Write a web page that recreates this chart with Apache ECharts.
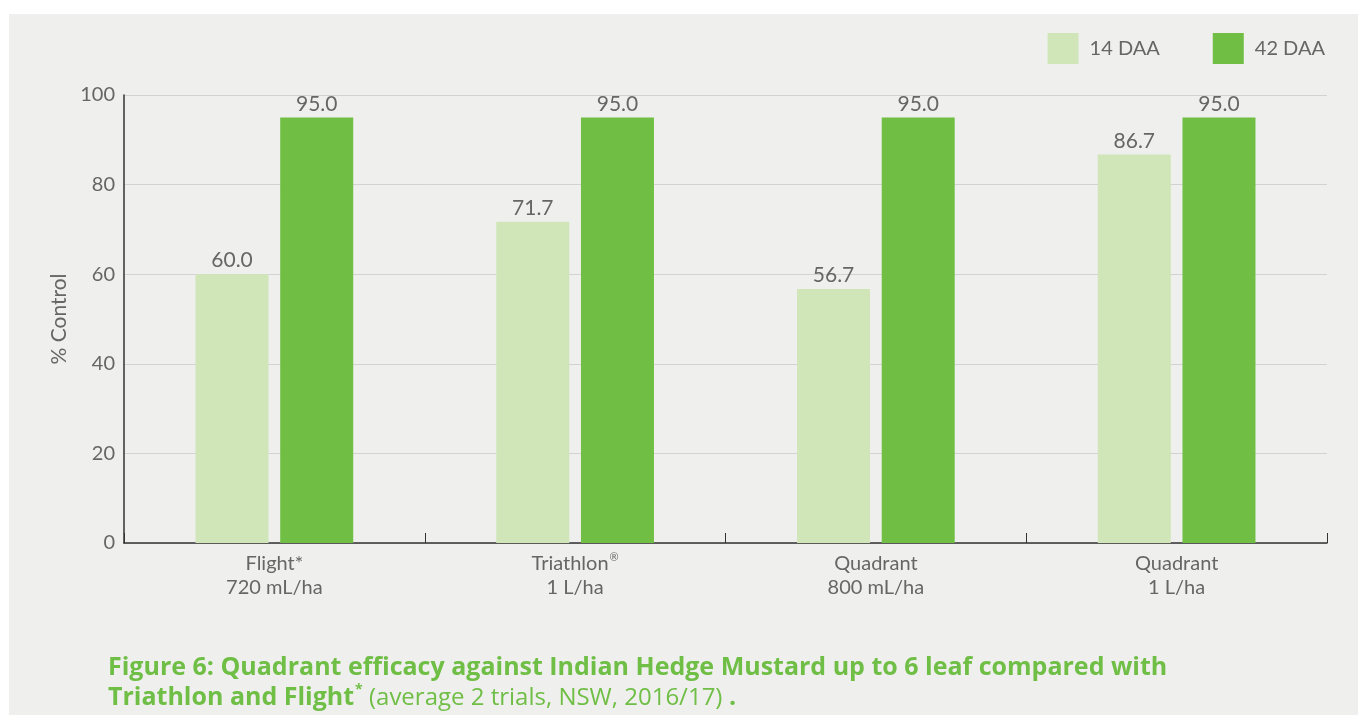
<!DOCTYPE html>
<html>
<head>
<meta charset="utf-8">
<script src="https://cdn.jsdelivr.net/npm/echarts@6/dist/echarts.min.js"></script>
<style>
  html, body { margin: 0; padding: 0; background: #ffffff; }
  #chart { width: 1358px; height: 715px; }
</style>
</head>
<body>
<div id="chart"></div>
<script>
// data
const products = ["Flight*", "Triathlon®", "Quadrant", "Quadrant"];
const rates = ["720 mL/ha", "1 L/ha", "800 mL/ha", "1 L/ha"];
const daa14 = [60.0, 71.7, 56.7, 86.7];
const daa42 = [95.0, 95.0, 95.0, 95.0];
const seriesNames = ["14 DAA", "42 DAA"];

const FONT = "Lato";
const TFONT = "Open Sans";
const TXT = "#666666";
const GREEN = "#6fbe45";

let chart = echarts.init(document.getElementById("chart"));

// product names with a trailing ® drawn as superscript
const labelFor = (p, i) => {
  let name = p.endsWith("®") ? "{a|" + p.slice(0, -1) + "}{s|®}" : "{a|" + p + "}";
  return name + "\n{a|" + rates[i] + "}";
};

let option = {
  backgroundColor: "#ffffff",
  textStyle: { fontFamily: FONT },
  graphic: [
    {
      type: "rect",
      z: -10,
      silent: true,
      shape: { x: 9, y: 14, width: 1349, height: 701 },
      style: { fill: "#efefed" },
    },
  ],
  title: {
    left: 108,
    top: 653,
    padding: 0,
    text:
      "{b|Figure 6: Quadrant efficacy against Indian Hedge Mustard up to 6 leaf compared with}\n" +
      "{b|Triathlon and Flight}{sup|*}{n| (average 2 trials, NSW, 2016/17)}{b| .}",
    textStyle: {
      rich: {
        b: { fontFamily: TFONT, fontWeight: "bold", fontSize: 25, color: GREEN, lineHeight: 30 },
        n: { fontFamily: TFONT, fontWeight: "normal", fontSize: 24, color: GREEN, lineHeight: 30 },
        sup: { fontFamily: TFONT, fontWeight: "bold", fontSize: 14, color: GREEN, verticalAlign: "top", lineHeight: 30, padding: [0, 0, 8, 1] },
      },
    },
  },
  legend: {
    right: 33,
    top: 33,
    padding: 0,
    itemWidth: 31,
    itemHeight: 31,
    itemGap: 53,
    icon: "rect",
    data: seriesNames,
    textStyle: { fontFamily: FONT, fontSize: 20, color: TXT, padding: [0, 0, 0, 6] },
  },
  grid: {
    left: 124,
    right: 31,
    top: 95,
    bottom: 172,
  },
  xAxis: {
    type: "category",
    data: products.map((p, i) => p + "\n" + rates[i]),
    axisLine: { lineStyle: { color: "#333333", width: 1.5 } },
    axisTick: { show: true, inside: true, length: 10, lineStyle: { color: "#333333" } },
    axisLabel: {
      margin: 9,
      formatter: (v, i) => labelFor(products[i], i),
      rich: {
        a: { fontFamily: FONT, fontSize: 20, color: TXT, lineHeight: 24 },
        s: { fontFamily: FONT, fontSize: 11, color: TXT, verticalAlign: "top", lineHeight: 24, padding: [0, 0, 8, 1] },
      },
    },
  },
  yAxis: {
    type: "value",
    min: 0,
    max: 100,
    interval: 20,
    name: "% Control",
    nameLocation: "middle",
    nameGap: 52,
    nameTextStyle: { fontFamily: FONT, fontSize: 21, color: TXT },
    axisLine: { show: true, lineStyle: { color: "#333333", width: 1.5 } },
    axisTick: { show: false },
    axisLabel: { fontFamily: FONT, fontSize: 20, color: TXT, margin: 9 },
    splitLine: { lineStyle: { color: "#d2d2d2", width: 1 } },
  },
  series: [
    {
      name: seriesNames[0],
      type: "bar",
      data: daa14,
      barWidth: 73,
      barGap: "16%",
      itemStyle: { color: "#d0e6b8" },
      label: {
        show: true,
        position: "top",
        distance: 3,
        formatter: (p) => p.value.toFixed(1),
        fontFamily: FONT,
        fontSize: 21,
        color: TXT,
      },
    },
    {
      name: seriesNames[1],
      type: "bar",
      data: daa42,
      barWidth: 73,
      itemStyle: { color: "#70bf44" },
      label: {
        show: true,
        position: "top",
        distance: 3,
        formatter: (p) => p.value.toFixed(1),
        fontFamily: FONT,
        fontSize: 21,
        color: TXT,
      },
    },
  ],
};

chart.setOption(option);
</script>
</body>
</html>
